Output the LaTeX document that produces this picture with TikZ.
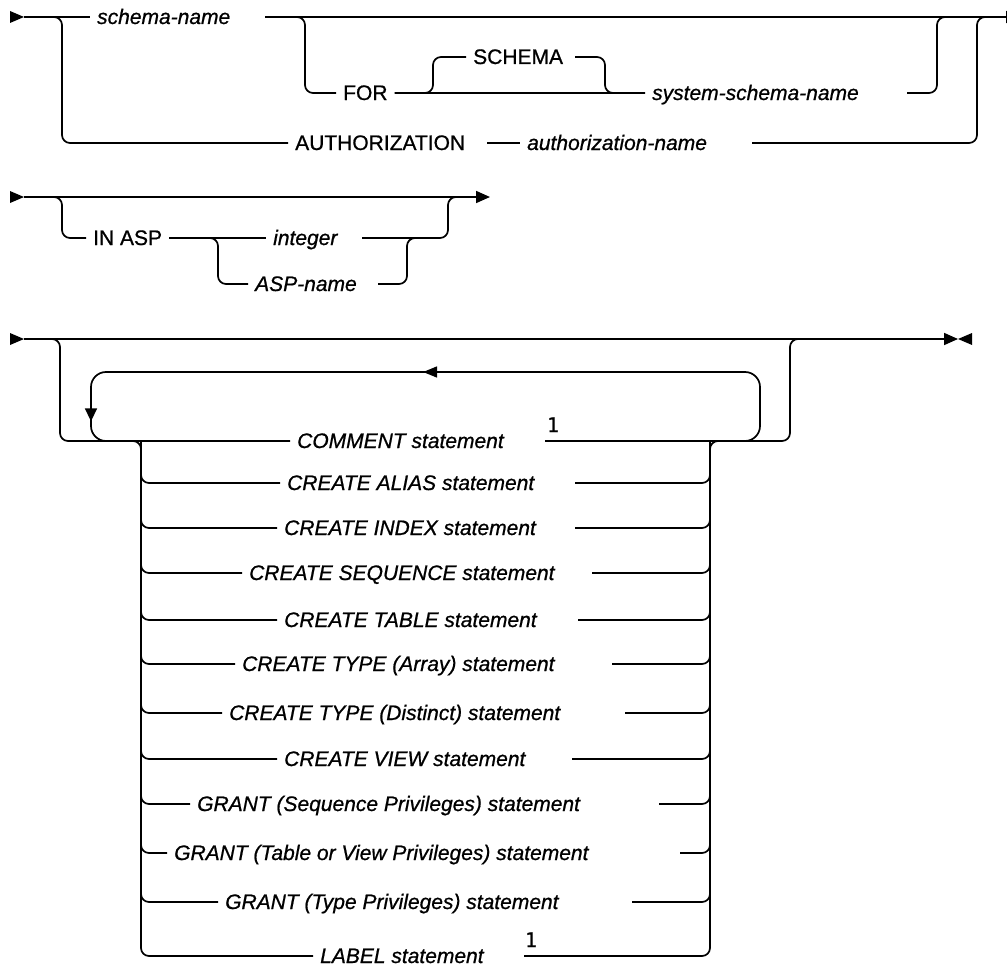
\documentclass[tikz,border=0pt]{standalone}
\usepackage{fontspec}
\setmainfont{Liberation Sans}[FakeBold=0.8]
\newfontfamily\notefont{DejaVu Sans Mono}[FakeBold=0.8]
\usetikzlibrary{arrows.meta,decorations.markings}

\begin{document}
\begin{tikzpicture}[
    x=1pt, y=-1pt,
    rail/.style={
        line width=1.7pt,
        rounded corners=8pt
    },
    endarrow/.style={
        -{Triangle[length=14pt,width=12pt]}
    },
    kwd/.style={
        anchor=west,
        inner xsep=7pt,
        inner ysep=0pt,
        text height=14pt,
        text depth=0pt,
        font=\fontsize{21}{25}\selectfont
    },
    varb/.style={
        kwd,
        font=\fontsize{21}{25}\selectfont\itshape
    },
    note/.style={
        anchor=base,
        inner sep=0pt,
        font=\notefont\fontsize{20}{24}\selectfont
    }
]
\useasboundingbox (0,0) rectangle (1007,966);

% Part 1 (y=17): schema name
\coordinate (s1)    at (24,17);
\coordinate (e1)    at (1020,17);
\coordinate (schR)  at (265,17);
\coordinate (forL)  at (305,93);
\coordinate (smaL)  at (433,93);
\coordinate (smaR)  at (575,57);
\coordinate (smaD)  at (605,93);
\coordinate (sysR)  at (907,93);
\coordinate (b1L)   at (62,143);
\coordinate (autR)  at (487,143);
\coordinate (autnR) at (752,143);
\coordinate (j1a)   at (937,17);
\coordinate (j1b)   at (977,17);
\coordinate (j1c)   at (995,17);

\node[varb] (sch)  at (90,17)   {schema-name};
\node[kwd]  (for)  at (336,93)  {FOR};
\node[kwd]  (sma)  at (466,57)  {SCHEMA};
\node[varb] (sys)  at (645,93)  {system-schema-name};
\node[kwd]  (aut)  at (288,143) {AUTHORIZATION};
\node[varb] (autn) at (520,143) {authorization-name};

\fill (s1) -- ++(-14,-6) -- ++(0,12) -- cycle;
\draw[rail] (s1) -- (sch.west);
\draw[rail, endarrow] (schR) -- (e1);
\draw[rail] (schR) -| (forL) -- (for.west);
\draw[rail] (for.east) -- (sys.west);
\draw[rail] (for.east) -- (smaL) |- (sma.west);
\draw[rail] (smaR) -| (smaD) -- (sys.west);
\draw[rail] (sysR) -| (j1a) -- (j1b);
\draw[rail] (s1) -| (b1L) -- (aut.west);
\draw[rail] (autR) -- (autn.west);
\draw[rail] (autnR) -| (j1b) -- (j1c);

% Part 2 (y=197): IN ASP
\coordinate (s2)   at (24,197);
\coordinate (e2)   at (490,197);
\coordinate (b2L)  at (62,238);
\coordinate (aspL) at (218,284);
\coordinate (intR) at (362,238);
\coordinate (aspR) at (378,284);
\coordinate (aspJ) at (407,238);
\coordinate (intJ) at (430,238);
\coordinate (j2a)  at (448,197);
\coordinate (j2b)  at (468,197);

\node[kwd]  (inasp) at (86,238)  {IN ASP};
\node[varb] (int)   at (266,238) {integer};
\node[varb] (asp)   at (248,284) {ASP-name};

\fill (s2) -- ++(-14,-6) -- ++(0,12) -- cycle;
\draw[rail, endarrow] (s2) -- (e2);
\draw[rail] (s2) -| (b2L) -- (inasp.west);
\draw[rail] (inasp.east) -- (int.west);
\draw[rail] (inasp.east) -| (aspL) -- (asp.west);
\draw[rail] (intR) -| (j2a) -- (j2b);
\draw[rail] (aspR) -| (aspJ) -- (intJ);

% Part 3 (y=339): repeated statements
\coordinate (s3)     at (24,339);
\coordinate (e3)     at (958,339);
\coordinate (b3L)    at (60,441);
\coordinate (b3R)    at (790,339);
\coordinate (j3)     at (830,339);
\coordinate (cmtR)   at (545,441);
\coordinate (lpIn)   at (730,441);
\coordinate (lpTR)   at (760,372);
\coordinate (lpBL)   at (91,441);
\coordinate (stkL)   at (141,441);
\coordinate (stkR)   at (710,441);
\coordinate (stkLin) at (128,441);
\coordinate (stkRin) at (723,441);

\node[varb] (cmt) at (290,441) {COMMENT statement};
\node[note] (n1)  at (553,432) {1};
\node[varb] (ali) at (280,483) {CREATE ALIAS statement};
\node[varb] (idx) at (277,528) {CREATE INDEX statement};
\node[varb] (seq) at (242,573) {CREATE SEQUENCE statement};
\node[varb] (tbl) at (277,620) {CREATE TABLE statement};
\node[varb] (arr) at (235,664) {CREATE TYPE (Array) statement};
\node[varb] (dst) at (222,713) {CREATE TYPE (Distinct) statement};
\node[varb] (viw) at (277,759) {CREATE VIEW statement};
\node[varb] (gsq) at (190,804) {GRANT (Sequence Privileges) statement};
\node[varb] (gtv) at (167,853) {GRANT (Table or View Privileges) statement};
\node[varb] (gty) at (218,902) {GRANT (Type Privileges) statement};
\node[varb] (lbl) at (313,956) {LABEL statement};
\node[note] (n2)  at (531,947) {1};

\coordinate (aliR) at (575,483);
\coordinate (idxR) at (575,528);
\coordinate (seqR) at (592,573);
\coordinate (tblR) at (578,620);
\coordinate (arrR) at (612,664);
\coordinate (dstR) at (625,713);
\coordinate (viwR) at (572,759);
\coordinate (gsqR) at (659,804);
\coordinate (gtvR) at (680,853);
\coordinate (gtyR) at (632,902);
\coordinate (lblR) at (524,956);

\fill (s3) -- ++(-14,-6) -- ++(0,12) -- cycle;
\draw[rail, endarrow] (s3) -- (e3);
\fill (e3) -- ++(14,-6) -- ++(0,12) -- cycle;
\draw[rail] (s3) -| (b3L) -- (cmt.west);
\draw[rail] (cmtR) -| (b3R) -- (j3);

% repeat arrow
\draw[rail, rounded corners=15pt, postaction={decorate},
    decoration={markings,
        mark=at position 423pt with {\arrow{Triangle[length=14pt,width=11pt]}},
        mark=at position 798pt with {\arrow{Triangle[length=13pt,width=12pt]}}}]
    (lpIn) -| (lpTR) -| (lpBL) -- (stkL);

% choice stack
\draw[rail] (stkLin) -| (ali.west -| stkL);
\draw[rail] (stkRin) -| (aliR -| stkR);
\draw[rail] (stkL) |- (ali.west) (aliR) -| (stkR);
\draw[rail] (stkL) |- (idx.west) (idxR) -| (stkR);
\draw[rail] (stkL) |- (seq.west) (seqR) -| (stkR);
\draw[rail] (stkL) |- (tbl.west) (tblR) -| (stkR);
\draw[rail] (stkL) |- (arr.west) (arrR) -| (stkR);
\draw[rail] (stkL) |- (dst.west) (dstR) -| (stkR);
\draw[rail] (stkL) |- (viw.west) (viwR) -| (stkR);
\draw[rail] (stkL) |- (gsq.west) (gsqR) -| (stkR);
\draw[rail] (stkL) |- (gtv.west) (gtvR) -| (stkR);
\draw[rail] (stkL) |- (gty.west) (gtyR) -| (stkR);
\draw[rail] (stkL) |- (lbl.west) (lblR) -| (stkR);

\end{tikzpicture}
\end{document}
